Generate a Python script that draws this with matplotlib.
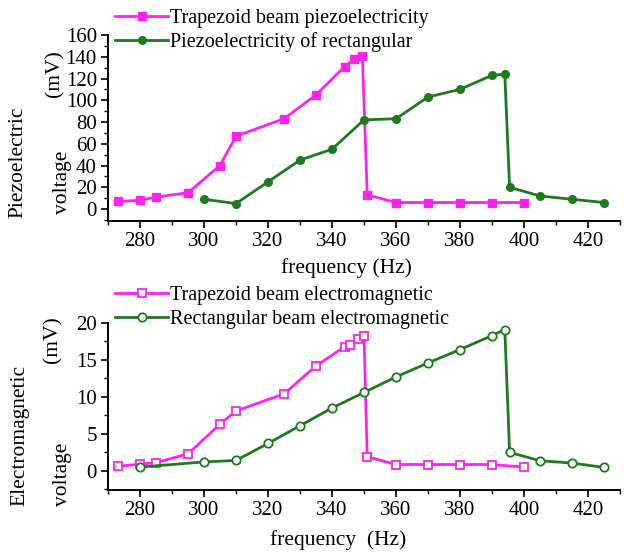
import matplotlib
matplotlib.use("Agg")
import matplotlib.pyplot as plt
from matplotlib.ticker import MultipleLocator

plt.rcParams['font.family'] = ['Liberation Serif', 'DejaVu Serif']

# Piezoelectric voltage (mV)
trap_piezo_f = [273, 280, 285, 295, 305, 310, 325, 335, 344, 347, 349.5, 351, 360, 370, 380, 390, 400]
trap_piezo_v = [7, 8, 11, 15, 40, 67, 83, 105, 131, 138, 141, 13, 6, 6, 6, 6, 6]
rect_piezo_f = [300, 310, 320, 330, 340, 350, 360, 370, 380, 390, 394, 395.5, 405, 415, 425]
rect_piezo_v = [9, 5, 25, 45, 55, 82, 83, 103, 110, 123, 124, 20, 12, 9, 6]

# Electromagnetic voltage (mV)
trap_em_f = [273, 280, 285, 295, 305, 310, 325, 335, 344, 345.5, 348, 350, 351, 360, 370, 380, 390, 400]
trap_em_v = [0.6, 0.9, 1.1, 2.3, 6.3, 8.1, 10.4, 14.2, 16.8, 17.0, 17.9, 18.3, 1.9, 0.85, 0.85, 0.85, 0.85, 0.5]
rect_em_f = [280, 300, 310, 320, 330, 340, 350, 360, 370, 380, 390, 394, 395.5, 405, 415, 425]
rect_em_v = [0.5, 1.2, 1.4, 3.7, 6.1, 8.5, 10.6, 12.7, 14.6, 16.4, 18.3, 19.1, 2.5, 1.35, 1.05, 0.45]

xticks = [280, 300, 320, 340, 360, 380, 400, 420]
piezo_yticks = [0, 20, 40, 60, 80, 100, 120, 140, 160]
em_yticks = [0, 5, 10, 15, 20]

MAG = '#ff22ee'
GRN = '#1d7a1d'

W, H = 624, 554
fig = plt.figure(figsize=(W / 100, H / 100), dpi=100)

def ax_rect(l, r, t, b):
    return [l / W, 1 - b / H, (r - l) / W, (b - t) / H]

ax1 = fig.add_axes(ax_rect(108, 620, 35, 221))
ax2 = fig.add_axes(ax_rect(108, 620, 323, 490))

ax1.plot(trap_piezo_f, trap_piezo_v, color=MAG, lw=2, marker='s', ms=5.5,
         mfc=MAG, mec=MAG, label='Trapezoid beam piezoelectricity')
ax1.plot(rect_piezo_f, rect_piezo_v, color=GRN, lw=2, marker='o', ms=5.5,
         mfc=GRN, mec=GRN, label='Piezoelectricity of rectangular')
ax1.set_ylim(-11, 160)
ax1.set_yticks(piezo_yticks)
ax1.yaxis.set_minor_locator(MultipleLocator(10))

ax2.plot(trap_em_f, trap_em_v, color=MAG, lw=2, marker='s', ms=6,
         mfc='white', mec=MAG, mew=1.3, label='Trapezoid beam electromagnetic')
ax2.plot(rect_em_f, rect_em_v, color=GRN, lw=2, marker='o', ms=6,
         mfc='white', mec=GRN, mew=1.3, label='Rectangular beam electromagnetic')
ax2.set_ylim(-2.6, 20)
ax2.set_yticks(em_yticks)
ax2.yaxis.set_minor_locator(MultipleLocator(2.5))

for ax in (ax1, ax2):
    ax.set_xlim(270, 430)
    ax.set_xticks(xticks)
    ax.xaxis.set_minor_locator(MultipleLocator(10))
    ax.spines['top'].set_visible(False)
    ax.spines['right'].set_visible(False)
    ax.spines['left'].set_linewidth(1.4)
    ax.spines['bottom'].set_linewidth(1.4)
    ax.tick_params(which='major', direction='out', length=5, width=1.2, labelsize=15, pad=3)
    ax.tick_params(which='minor', direction='out', length=3, width=1.0)
    ax.patch.set_alpha(0)

leg_kw = dict(loc='upper left', frameon=False, fontsize=14.5, handlelength=2.65,
              handletextpad=0.1, labelspacing=0.22, borderaxespad=0, borderpad=0,
              bbox_transform=fig.transFigure)
ax1.legend(bbox_to_anchor=(115 / W, 1 - 9 / H), **leg_kw)
ax2.legend(bbox_to_anchor=(115 / W, 1 - 286 / H), **leg_kw)

def ft(x, y, s, **kw):
    fig.text(x / W, 1 - y / H, s, **kw)

fs = 15.5
ft(346, 268, 'frequency (Hz)', ha='center', va='center', fontsize=fs)
ft(338, 540, 'frequency  (Hz)', ha='center', va='center', fontsize=fs)

ft(18, 162, 'Piezoelectric', rotation=90, ha='center', va='center', fontsize=fs)
ft(63, 182, 'voltage', rotation=90, ha='center', va='center', fontsize=fs)
ft(55, 74, '(mV)', rotation=90, ha='center', va='center', fontsize=fs)

ft(20, 435, 'Electromagnetic', rotation=90, ha='center', va='center', fontsize=fs)
ft(63, 474, 'voltage', rotation=90, ha='center', va='center', fontsize=fs)
ft(53, 340, '(mV)', rotation=90, ha='center', va='center', fontsize=fs)

fig.savefig('out.png', dpi=100)
